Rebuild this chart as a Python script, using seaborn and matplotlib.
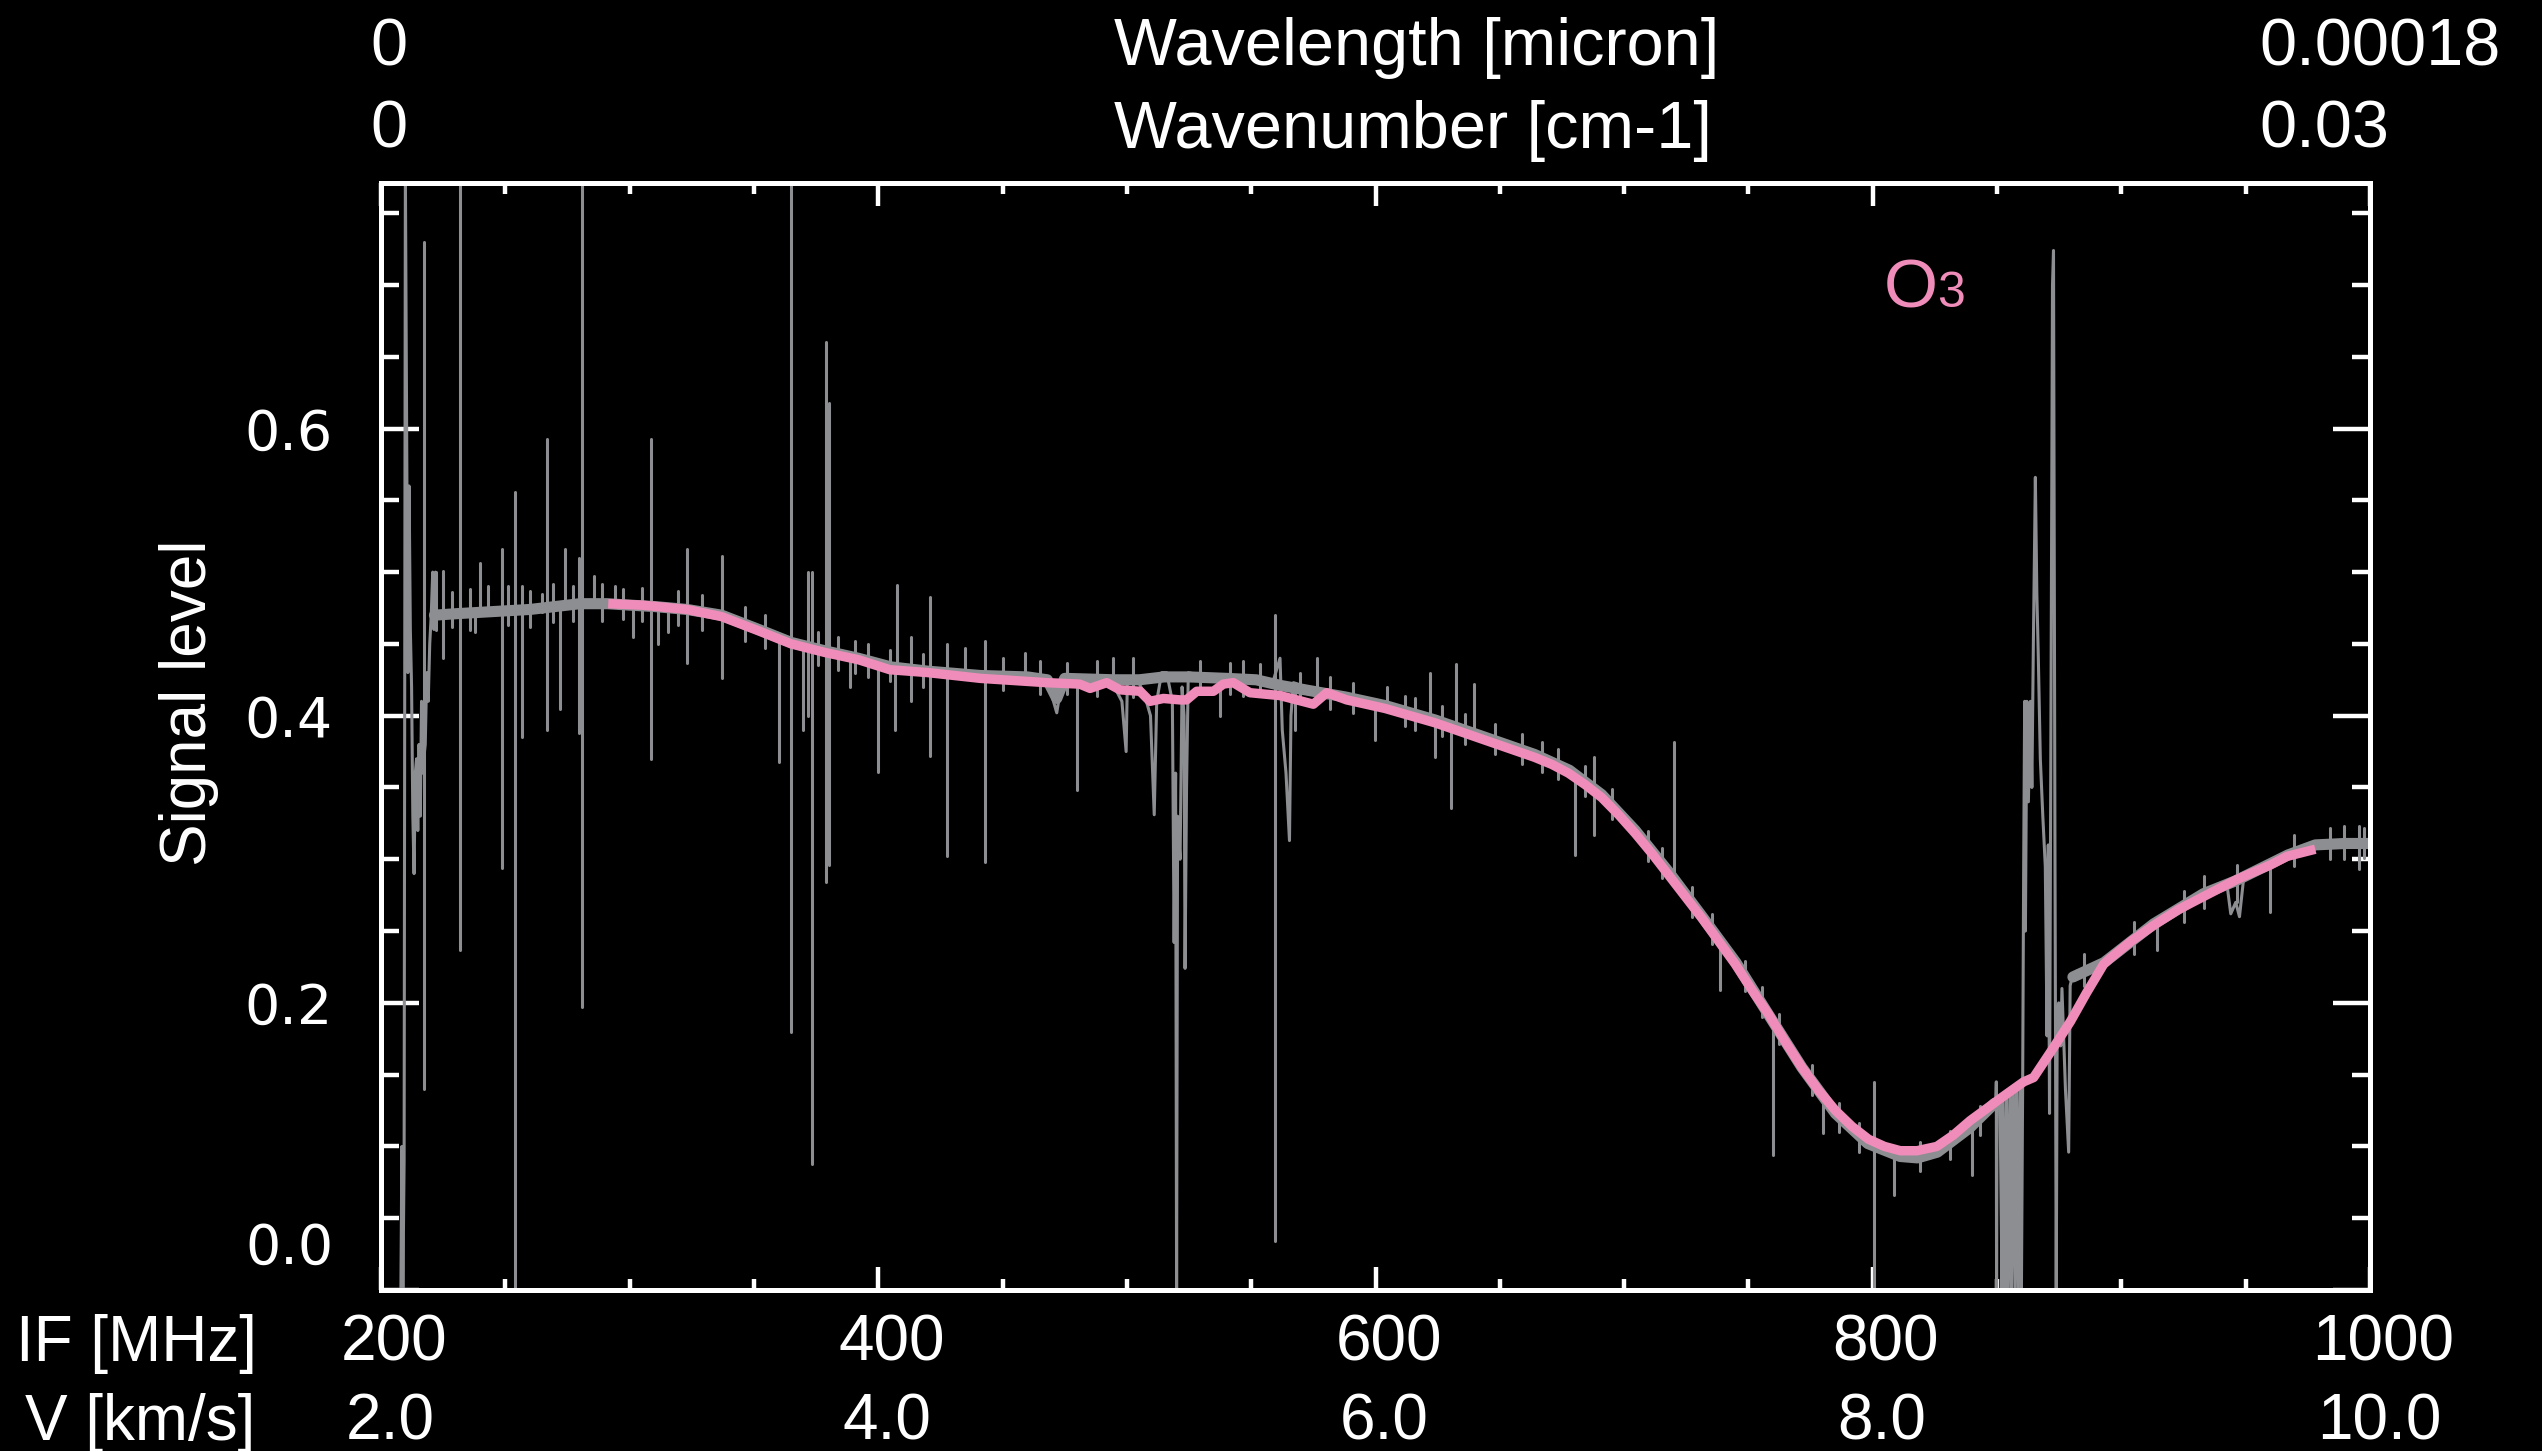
import numpy as np
import pandas as pd
import matplotlib
matplotlib.use("Agg")
import matplotlib.pyplot as plt
import seaborn as sns
from matplotlib.ticker import MultipleLocator, FixedLocator, FixedFormatter

# ---------------- data ----------------
# measured spectrum: continuous thin trace (baseline, broad dips, messy regions)
spec_if = [208.0, 208.4, 208.8, 209.3, 209.8, 210.3, 210.8, 211.3, 211.8, 212.3,
           212.8, 213.3, 213.8, 214.3, 214.8, 215.3, 215.8, 216.3, 216.8, 217.2,
           217.8, 218.4, 219.0, 219.6, 220.2, 220.8, 221.3, 221.9, 222.4, 235.0,
           250.0, 265.0, 280.0, 291.0, 310.0, 323.0, 337.0, 352.0, 365.0, 379.0,
           392.0, 405.0, 420.0, 441.0, 460.0, 468.0, 470.5, 471.8, 473.0, 474.5,
           490.0, 495.0, 498.0, 499.7, 500.2, 504.0, 507.0, 509.5, 511.0, 512.0,
           514.0, 516.0, 518.3, 519.0, 519.6, 520.0, 520.4, 521.4, 522.2, 523.0,
           523.4, 524.0, 524.7, 530.0, 545.0, 559.0, 561.6, 562.5, 564.0, 565.4,
           566.0, 567.0, 576.0, 588.0, 600.0, 614.0, 624.0, 640.0, 650.0, 664.0,
           675.0, 680.0, 688.0, 695.0, 704.5, 710.0, 720.0, 730.0, 738.0, 745.0,
           752.0, 760.0, 765.0, 772.0, 780.0, 786.0, 793.0, 800.0, 805.0, 808.0,
           815.0, 822.0, 830.0, 835.0, 840.0, 845.0, 849.5, 849.7, 849.8, 850.0,
           851.2, 852.0, 852.4, 853.3, 853.8, 854.5, 855.2, 855.8, 856.5, 857.2,
           857.8, 858.5, 859.2, 859.8, 860.3, 860.7, 861.1, 861.4, 862.0, 862.6,
           863.4, 864.0, 864.6, 865.4, 866.0, 866.6, 867.4, 868.4, 869.4, 870.1,
           870.6, 871.1, 871.8, 872.3, 872.7, 873.3, 873.8, 874.2, 874.8, 875.6,
           876.1, 877.5, 878.8, 879.4, 880.5, 882.0, 886.0, 893.0, 900.0, 906.0,
           914.0, 925.0, 935.0, 942.5, 944.0, 946.0, 947.5, 949.2, 955.0, 960.0,
           967.0, 975.0, 980.0, 987.0, 995.0, 1000.0]
spec_sig = [0.00, 0.10, 0.00, 0.09, 0.78, 0.60, 0.43, 0.56, 0.46, 0.42,
            0.33, 0.29, 0.36, 0.37, 0.32, 0.38, 0.33, 0.41, 0.36, 0.37,
            0.38, 0.43, 0.41, 0.45, 0.47, 0.50, 0.46, 0.50, 0.47, 0.471,
            0.473, 0.474, 0.477, 0.478, 0.476, 0.474, 0.470, 0.460, 0.451, 0.445,
            0.440, 0.434, 0.431, 0.428, 0.427, 0.425, 0.41, 0.402, 0.415, 0.426,
            0.426, 0.42, 0.41, 0.375, 0.425, 0.426, 0.415, 0.40, 0.331, 0.41,
            0.43, 0.43, 0.41, 0.242, 0.36, 0.0, 0.33, 0.30, 0.42, 0.40,
            0.224, 0.35, 0.43, 0.428, 0.427, 0.425, 0.44, 0.39, 0.36, 0.313,
            0.40, 0.423, 0.418, 0.414, 0.409, 0.402, 0.397, 0.387, 0.38, 0.373,
            0.365, 0.36, 0.35, 0.34, 0.320, 0.307, 0.288, 0.263, 0.241, 0.228,
            0.21, 0.187, 0.172, 0.154, 0.132, 0.12, 0.108, 0.101, 0.096, 0.094,
            0.091, 0.092, 0.099, 0.106, 0.111, 0.122, 0.13, 0.145, 0.0, 0.13,
            0.13, 0.0, 0.135, 0.0, 0.138, 0.0, 0.14, 0.0, 0.14, 0.0,
            0.142, 0.0, 0.145, 0.0, 0.145, 0.294, 0.41, 0.25, 0.41, 0.34,
            0.41, 0.35, 0.45, 0.566, 0.485, 0.44, 0.37, 0.33, 0.295, 0.177,
            0.31, 0.123, 0.45, 0.70, 0.724, 0.30, 0.0, 0.19, 0.20, 0.17,
            0.21, 0.14, 0.096, 0.212, 0.22, 0.222, 0.224, 0.229, 0.238, 0.246,
            0.255, 0.266, 0.276, 0.282, 0.262, 0.27, 0.26, 0.287, 0.293, 0.297,
            0.302, 0.308, 0.311, 0.31, 0.311, 0.311]

# single-channel spikes of the spectrum: position, lower and upper end
spike_if = [217.4, 222.0, 224.8, 228.4, 231.8, 235.8, 237.8, 240.0, 243.0, 248.7,
            251.2, 254.0, 256.6, 259.9, 264.6, 266.8, 269.3, 272.0, 274.0, 277.4,
            279.6, 280.9, 285.5, 288.8, 294.1, 297.5, 301.5, 304.9, 308.6, 311.3,
            315.6, 319.6, 323.0, 329.0, 337.0, 346.4, 354.5, 360.1, 364.9, 369.9,
            371.9, 373.2, 375.9, 378.9, 380.2, 384.0, 388.7, 390.7, 396.0, 399.8,
            404.7, 406.7, 407.4, 413.0, 418.1, 420.8, 427.5, 434.9, 443.1, 450.3,
            459.0, 465.1, 475.8, 479.8, 487.9, 494.6, 502.6, 529.4, 537.5, 541.5,
            546.8, 553.6, 559.7, 567.6, 569.6, 576.4, 581.7, 591.1, 599.8, 604.5,
            612.0, 616.0, 622.0, 624.0, 626.7, 630.2, 632.2, 636.1, 639.8, 648.1,
            658.9, 666.9, 673.6, 680.1, 684.4, 687.7, 695.1, 709.8, 715.2, 719.9,
            727.3, 735.3, 738.7, 748.7, 755.4, 759.8, 762.1, 775.5, 779.8, 786.3,
            794.3, 800.6, 808.4, 819.1, 831.2, 839.9, 843.2, 884.8, 904.9, 914.3,
            925.0, 933.1, 946.5, 959.9, 969.3, 984.0, 989.4, 995.4, 997.4]
spike_lo = [0.14, 0.46, 0.44, 0.462, 0.237, 0.46, 0.458, 0.47, 0.47, 0.294,
            0.463, 0.0, 0.385, 0.462, 0.472, 0.39, 0.465, 0.405, 0.476, 0.466,
            0.388, 0.197, 0.478, 0.466, 0.478, 0.467, 0.455, 0.466, 0.37, 0.45,
            0.458, 0.463, 0.437, 0.46, 0.426, 0.452, 0.447, 0.368, 0.18, 0.39,
            0.40, 0.088, 0.435, 0.284, 0.296, 0.432, 0.42, 0.43, 0.427, 0.361,
            0.424, 0.39, 0.432, 0.41, 0.42, 0.372, 0.302, 0.43, 0.298, 0.418,
            0.427, 0.415, 0.415, 0.348, 0.414, 0.42, 0.413, 0.416, 0.40, 0.415,
            0.414, 0.414, 0.034, 0.39, 0.409, 0.418, 0.405, 0.402, 0.383, 0.407,
            0.393, 0.39, 0.398, 0.371, 0.386, 0.336, 0.391, 0.38, 0.387, 0.373,
            0.366, 0.361, 0.356, 0.303, 0.344, 0.317, 0.328, 0.299, 0.287, 0.287,
            0.26, 0.241, 0.209, 0.208, 0.19, 0.094, 0.171, 0.136, 0.109, 0.11,
            0.096, 0.0, 0.066, 0.083, 0.091, 0.08, 0.108, 0.212, 0.234, 0.237,
            0.256, 0.266, 0.27, 0.263, 0.295, 0.30, 0.30, 0.293, 0.301]
spike_hi = [0.73, 0.50, 0.501, 0.486, 0.78, 0.488, 0.472, 0.506, 0.49, 0.516,
            0.49, 0.556, 0.49, 0.487, 0.485, 0.593, 0.492, 0.476, 0.516, 0.49,
            0.51, 0.78, 0.497, 0.492, 0.49, 0.488, 0.477, 0.489, 0.593, 0.476,
            0.476, 0.487, 0.516, 0.484, 0.511, 0.476, 0.47, 0.454, 0.78, 0.449,
            0.50, 0.50, 0.458, 0.66, 0.618, 0.455, 0.442, 0.452, 0.45, 0.436,
            0.446, 0.433, 0.491, 0.455, 0.443, 0.483, 0.45, 0.447, 0.452, 0.44,
            0.444, 0.438, 0.437, 0.426, 0.438, 0.44, 0.44, 0.438, 0.428, 0.437,
            0.438, 0.436, 0.47, 0.423, 0.43, 0.44, 0.427, 0.423, 0.41, 0.42,
            0.414, 0.412, 0.43, 0.397, 0.407, 0.392, 0.436, 0.401, 0.422, 0.394,
            0.387, 0.382, 0.377, 0.36, 0.365, 0.371, 0.349, 0.32, 0.308, 0.382,
            0.281, 0.262, 0.241, 0.229, 0.211, 0.188, 0.192, 0.157, 0.133, 0.13,
            0.116, 0.145, 0.094, 0.103, 0.111, 0.112, 0.128, 0.234, 0.256, 0.255,
            0.278, 0.288, 0.296, 0.298, 0.317, 0.322, 0.323, 0.323, 0.322]

# noise band of the measured spectrum (two segments)
band_if_a = [221.5, 230, 240, 250, 260, 270, 280, 291, 300, 310, 323, 337, 352, 365,
             379, 392, 405, 420, 441, 460, 468, 471.8, 475, 495, 505, 515, 525, 540,
             552, 562, 575, 588, 604, 624, 644, 664, 678, 691, 704.5, 718, 731, 745,
             758, 771.5, 785, 798, 811, 818, 826, 839, 849]
band_sig_a = [0.470, 0.471, 0.472, 0.473, 0.474, 0.476, 0.478, 0.478, 0.477, 0.476,
              0.474, 0.470, 0.460, 0.451, 0.445, 0.440, 0.434, 0.431, 0.428, 0.427,
              0.425, 0.412, 0.426, 0.425, 0.425, 0.427, 0.427, 0.426, 0.425, 0.421,
              0.417, 0.413, 0.407, 0.397, 0.385, 0.373, 0.362, 0.345, 0.320, 0.291,
              0.261, 0.228, 0.192, 0.155, 0.123, 0.102, 0.093, 0.092, 0.096, 0.113,
              0.130]
band_if_b = [880.5, 893, 913, 933, 946, 960, 967, 978, 990, 1000]
band_sig_b = [0.218, 0.228, 0.255, 0.276, 0.285, 0.297, 0.303, 0.310, 0.311, 0.311]

# O3 model fit (pink)
model_if = [291.4, 305, 323, 337, 352, 365, 378.6, 392, 404.7, 420, 441, 467.7, 481,
            485.2, 491.9, 497.2, 505.3, 509.3, 514.7, 521.4, 524, 528.1, 534.8, 538.8,
            542.8, 549.5, 561.6, 575, 580.4, 588.4, 603.9, 624, 644, 664, 671, 677.6,
            684.3, 691, 697.8, 704.5, 711.2, 717.9, 724.6, 731.3, 738, 744.7, 751.4,
            758.1, 764.8, 771.5, 778.2, 785, 791.6, 798.3, 804.7, 811.1, 817.8, 825.8,
            832.5, 839.2, 852.6, 860.7, 864.7, 872, 879.5, 886, 892.9, 895.5, 904, 913,
            923, 933, 946.5, 959.9, 966.6, 978]
model_sig = [0.478, 0.477, 0.474, 0.469, 0.459, 0.450, 0.444, 0.439, 0.432, 0.430,
             0.426, 0.423, 0.422, 0.419, 0.423, 0.418, 0.417, 0.410, 0.412, 0.411,
             0.411, 0.417, 0.417, 0.422, 0.423, 0.416, 0.414, 0.408, 0.416, 0.411,
             0.405, 0.395, 0.383, 0.371, 0.366, 0.360, 0.352, 0.343, 0.331, 0.318,
             0.304, 0.289, 0.274, 0.259, 0.243, 0.227, 0.209, 0.192, 0.173, 0.155,
             0.139, 0.125, 0.114, 0.105, 0.100, 0.097, 0.097, 0.100, 0.108, 0.118,
             0.135, 0.145, 0.148, 0.167, 0.187, 0.207, 0.227, 0.231, 0.243, 0.254,
             0.265, 0.274, 0.286, 0.296, 0.302, 0.307]

if_ticks = [200, 400, 600, 800, 1000]
if_labels = ["200", "400", "600", "800", "1000"]
v_labels = ["2.0", "4.0", "6.0", "8.0", "10.0"]
y_ticks = [0.0, 0.2, 0.4, 0.6]
y_labels = ["", "0.2", "0.4", "0.6"]
top_row1 = ["0", "Wavelength [micron]", "0.00018"]
top_row2 = ["0", "Wavenumber [cm-1]", "0.03"]

GRAY = "#8d8e92"
PINK = "#f08cb9"

# ---------------- style ----------------
sns.set_theme(style="ticks", rc={"axes.facecolor": "black", "figure.facecolor": "black",
                                  "savefig.facecolor": "black"})
plt.rcParams["font.family"] = ["Liberation Sans", "DejaVu Sans"]

W, H = 2542, 1451
fig = plt.figure(figsize=(W / 100, H / 100), dpi=100)
L, R, T, B = 381, 2370, 183, 1290
ax = fig.add_axes([L / W, 1 - B / H, (R - L) / W, (B - T) / H])
ax.set_facecolor("black")

band_df = pd.DataFrame({
    "IF": band_if_a + band_if_b,
    "sig": band_sig_a + band_sig_b,
    "seg": ["a"] * len(band_if_a) + ["b"] * len(band_if_b),
})
spike_df = pd.DataFrame({
    "IF": [x for x in spike_if for _ in (0, 1)],
    "sig": [v for pair in zip(spike_lo, spike_hi) for v in pair],
    "id": [i for i in range(len(spike_if)) for _ in (0, 1)],
})

sns.lineplot(data=band_df, x="IF", y="sig", units="seg", estimator=None, sort=False,
             color=GRAY, lw=8.0, legend=False, ax=ax)
sns.lineplot(x=spec_if, y=spec_sig, estimator=None, sort=False, color=GRAY, lw=2.2,
             legend=False, ax=ax)
sns.lineplot(data=spike_df, x="IF", y="sig", units="id", estimator=None, sort=False,
             color=GRAY, lw=2.2, legend=False, ax=ax)
sns.lineplot(x=model_if, y=model_sig, estimator=None, sort=False, color=PINK, lw=6.8,
             legend=False, ax=ax, solid_capstyle="butt")

ax.set_xlim(200, 1000)
ax.set_ylim(0, 0.771)
ax.grid(False)
ax.set_xlabel("")
ax.set_ylabel("")

for s in ax.spines.values():
    s.set_color("white")
    s.set_linewidth(3.6)
    s.set_visible(True)

ax.xaxis.set_major_locator(FixedLocator(if_ticks))
ax.xaxis.set_minor_locator(MultipleLocator(50))
ax.yaxis.set_major_locator(FixedLocator(y_ticks))
ax.yaxis.set_major_formatter(FixedFormatter(y_labels))
ax.yaxis.set_minor_locator(MultipleLocator(0.05))

ax.tick_params(axis="both", which="both", direction="in", top=True, right=True,
               bottom=True, left=True, color="white", width=3.2,
               labelbottom=False, labeltop=False, labelright=False)
ax.tick_params(axis="x", which="major", length=16.5)
ax.tick_params(axis="x", which="minor", length=7.7)
ax.tick_params(axis="y", which="major", length=27, pad=34.5, labelcolor="white",
               labelsize=40)
ax.tick_params(axis="y", which="minor", length=12.7)
for lab in ax.get_yticklabels():
    lab.set_fontfamily("DejaVu Sans")

# the 0.0 label sits above its tick
ax.annotate("0.0", xy=(0, 0.0), xycoords=("axes fraction", "data"),
            xytext=(-34.5, 29.5), textcoords="offset points", ha="right", va="center",
            fontsize=40, color="white", family="DejaVu Sans", annotation_clip=False)

# bottom rows: IF and velocity
for t, a, v in zip(if_ticks, if_labels, v_labels):
    ax.annotate(a, xy=(t, 0), xycoords=("data", "axes fraction"), xytext=(9.4, -51.1),
                textcoords="offset points", ha="center", va="baseline", fontsize=46,
                color="white", annotation_clip=False)
    ax.annotate(v, xy=(t, 0), xycoords=("data", "axes fraction"), xytext=(6.5, -108),
                textcoords="offset points", ha="center", va="baseline", fontsize=46,
                color="white", annotation_clip=False)
fig.text(257 / W, 1 - 1361 / H, "IF [MHz]", ha="right", va="baseline", fontsize=46,
         color="white")
fig.text(255 / W, 1 - 1440 / H, "V [km/s]", ha="right", va="baseline", fontsize=46,
         color="white")

# top rows
for xs, txt in zip([370, 1114, 2259], top_row1):
    fig.text(xs / W, 1 - 65 / H, txt, ha="left", va="baseline", fontsize=48, color="white")
for xs, txt in zip([370, 1114, 2259], top_row2):
    fig.text(xs / W, 1 - 148 / H, txt, ha="left", va="baseline", fontsize=48, color="white")

# y label
fig.text(189 / W, 1 - 703 / H, "Signal level", rotation=90, ha="center", va="center",
         fontsize=46, color="white")

# O3 annotation (subscript-like 3 on the same baseline)
ax.text(804.6, 0.6845, "O", color=PINK, fontsize=50, ha="left", va="baseline")
ax.text(825.9, 0.6845, "3", color=PINK, fontsize=36, ha="left", va="baseline")

fig.savefig("out.png", dpi=100, facecolor="black")
